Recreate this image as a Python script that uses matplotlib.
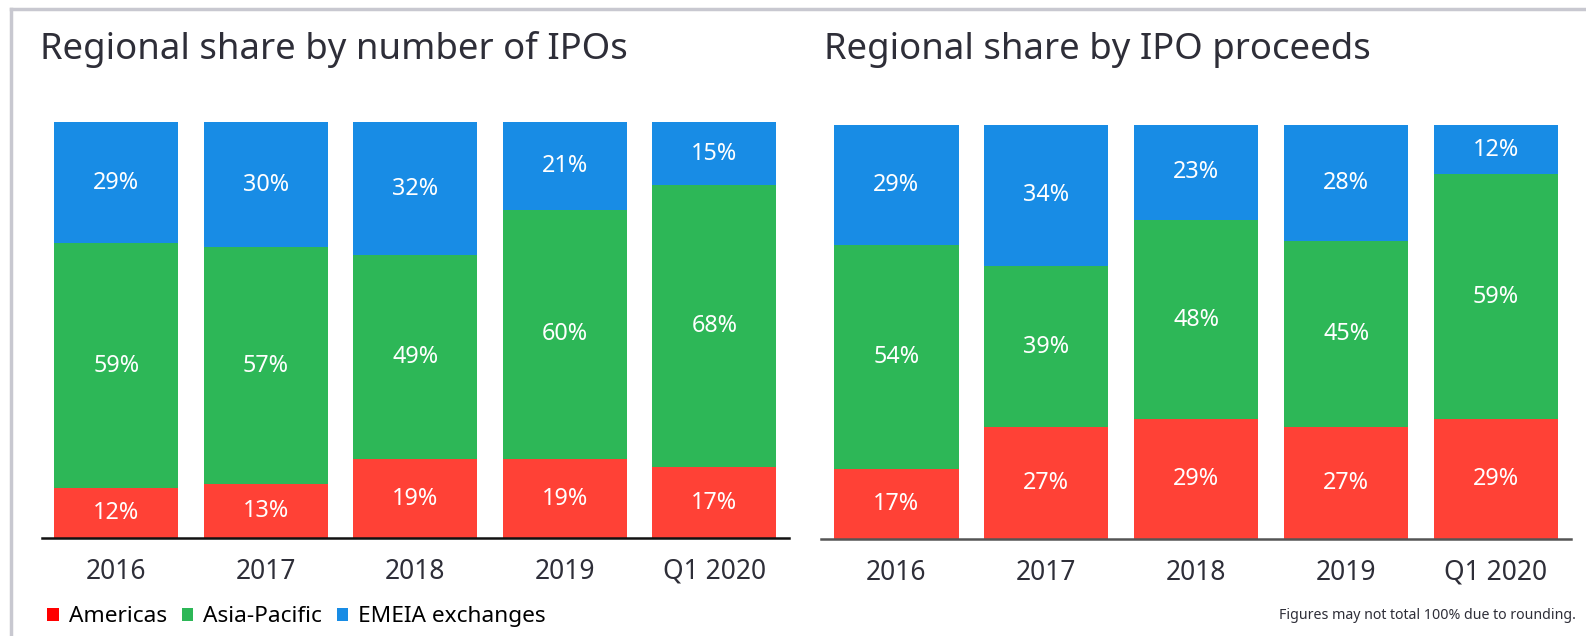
import matplotlib.pyplot as plt
from matplotlib.patches import Patch
from matplotlib.lines import Line2D

plt.rcParams['font.family'] = ['Noto Sans', 'DejaVu Sans']

# dados
anos = ['2016', '2017', '2018', '2019', 'Q1 2020']
regioes = ['Americas', 'Asia-Pacific', 'EMEIA exchanges']
cores = ['#FF4136', '#2DB757', '#188CE5']
cores_legenda = ['#FF0000', '#2DB757', '#188CE5']

numero_americas = [12, 13, 19, 19, 17]
numero_asia = [59, 57, 49, 60, 68]
numero_emeia = [29, 30, 32, 21, 15]

receita_americas = [17, 27, 29, 27, 29]
receita_asia = [54, 39, 48, 45, 59]
receita_emeia = [29, 34, 23, 28, 12]

cor_texto = '#2E2E38'


def plot_barras(ax, series, cor_eixo):
    x = range(len(anos))
    base = [0] * len(anos)
    for valores, cor in zip(series, cores):
        barras = ax.bar(x, valores, bottom=base, width=0.83, color=cor,
                        edgecolor='none')
        for b, v in zip(barras, valores):
            ax.text(b.get_x() + b.get_width() / 2, b.get_y() + b.get_height() / 2,
                    f'{v}%', ha='center', va='center', color='white', fontsize=16.8)
        base = [a + b for a, b in zip(base, valores)]
    ax.set_xlim(-0.5, 4.5)
    ax.set_ylim(0, 100)
    ax.set_xticks(list(x))
    ax.set_xticklabels(anos, fontsize=19, color=cor_texto)
    ax.tick_params(axis='x', length=0, pad=14)
    ax.set_yticks([])
    for lado in ['top', 'left', 'right']:
        ax.spines[lado].set_visible(False)
    ax.spines['bottom'].set_color(cor_eixo)
    ax.spines['bottom'].set_linewidth(1.8)


fig = plt.figure(figsize=(15.86, 6.36), dpi=100)

ax1 = fig.add_axes([0.0262, 0.154, 0.4713, 0.6535])
ax2 = fig.add_axes([0.5179, 0.152, 0.4726, 0.652])

plot_barras(ax1, [numero_americas, numero_asia, numero_emeia], '#111111')
plot_barras(ax2, [receita_americas, receita_asia, receita_emeia], '#555555')

fig.text(0.0255, 0.922, 'Regional share by number of IPOs', fontsize=26.3,
         color=cor_texto, va='center', ha='left')
fig.text(0.5195, 0.922, 'Regional share by IPO proceeds', fontsize=26.3,
         color=cor_texto, va='center', ha='left')

# borda cinza
fig.add_artist(Line2D([0.0072, 1.0], [0.986, 0.986], color='#C8C8D0', lw=2.5,
                      transform=fig.transFigure))
fig.add_artist(Line2D([0.0072, 0.0072], [0.0, 0.986], color='#C8C8D0', lw=2.5,
                      transform=fig.transFigure))

handles = [Patch(facecolor=c, edgecolor='none') for c in cores_legenda]
fig.legend(handles, regioes, loc='center left', bbox_to_anchor=(0.017, 0.03),
           ncol=3, frameon=False, fontsize=16.3, handlelength=0.5,
           handleheight=0.5, handletextpad=0.45, columnspacing=0.65)

fig.text(0.9937, 0.033, 'Figures may not total 100% due to rounding.',
         fontsize=10.2, color=cor_texto, ha='right', va='center')

plt.savefig('out.png', dpi=100)
